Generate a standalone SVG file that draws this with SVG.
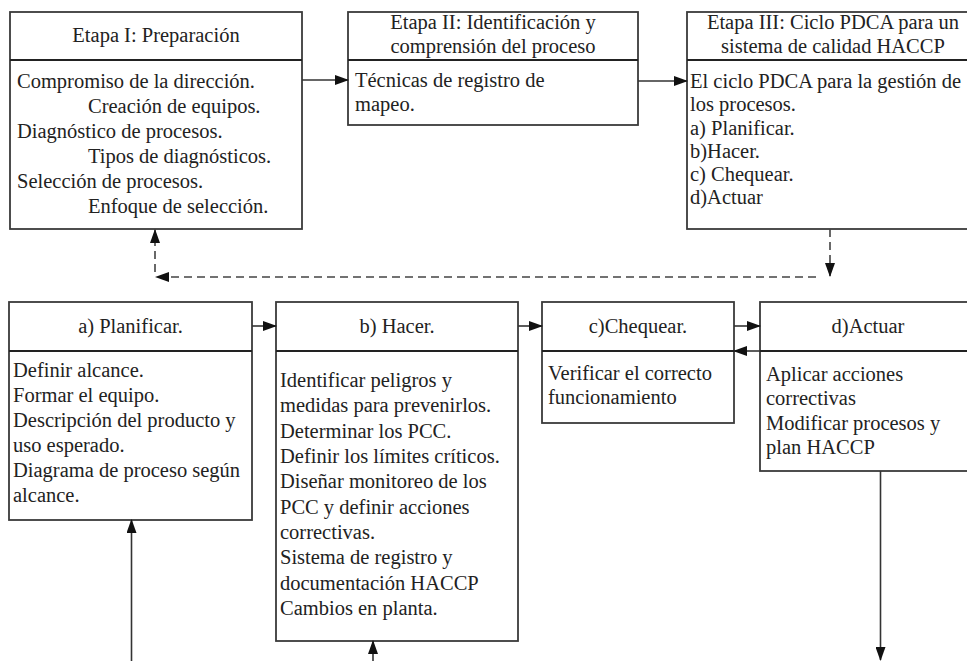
<svg xmlns="http://www.w3.org/2000/svg" width="967" height="661" viewBox="0 0 967 661">
<defs>
<style>
.box{fill:#fff;stroke:#3a3a3a;stroke-width:1.8}
.div{stroke:#222;stroke-width:1.8}
.t{font-family:"Liberation Serif","Times New Roman",serif;font-size:20.5px;fill:#222}
.c{text-anchor:middle}
.ln{fill:none;stroke:#333;stroke-width:1.6}
.dash{fill:none;stroke:#444;stroke-width:1.6;stroke-dasharray:8,5}
</style>
<marker id="ah" markerWidth="14" markerHeight="10" refX="13" refY="5" orient="auto" markerUnits="userSpaceOnUse">
<path d="M0,0 L14,5 L0,10 Z" fill="#111"/>
</marker>
</defs>
<rect width="967" height="661" fill="#fff"/>

<g id="etapa1">
<rect class="box" x="10" y="12" width="292" height="217"/>
<line class="div" x1="10" y1="60" x2="302" y2="60"/>
<text class="t c" x="156" y="42">Etapa I: Preparación</text>
<text class="t" x="17" y="88">Compromiso de la dirección.</text>
<text class="t" x="88" y="113">Creación de equipos.</text>
<text class="t" x="17" y="138">Diagnóstico de procesos.</text>
<text class="t" x="88" y="163">Tipos de diagnósticos.</text>
<text class="t" x="17" y="188">Selección de procesos.</text>
<text class="t" x="88" y="213">Enfoque de selección.</text>
</g>

<g id="etapa2">
<rect class="box" x="348" y="12" width="290" height="113"/>
<line class="div" x1="348" y1="60" x2="638" y2="60"/>
<text class="t c" x="493" y="29">Etapa II: Identificación y</text>
<text class="t c" x="493" y="53">comprensión del proceso</text>
<text class="t" x="355" y="87">Técnicas de registro de</text>
<text class="t" x="355" y="111">mapeo.</text>
</g>

<g id="etapa3">
<rect class="box" x="687" y="12" width="292" height="217"/>
<line class="div" x1="687" y1="60" x2="979" y2="60"/>
<text class="t c" x="833" y="29">Etapa III: Ciclo PDCA para un</text>
<text class="t c" x="833" y="53">sistema de calidad HACCP</text>
<text class="t" x="690" y="88">El ciclo PDCA para la gestión de</text>
<text class="t" x="690" y="111">los procesos.</text>
<text class="t" x="690" y="135">a) Planificar.</text>
<text class="t" x="690" y="158">b)Hacer.</text>
<text class="t" x="690" y="181">c) Chequear.</text>
<text class="t" x="690" y="204">d)Actuar</text>
</g>

<g id="planificar">
<rect class="box" x="9" y="302" width="243" height="218"/>
<line class="div" x1="9" y1="351" x2="252" y2="351"/>
<text class="t c" x="130.5" y="333">a) Planificar.</text>
<text class="t" x="13" y="377">Definir alcance.</text>
<text class="t" x="13" y="402">Formar el equipo.</text>
<text class="t" x="13" y="427">Descripción del producto y</text>
<text class="t" x="13" y="452">uso esperado.</text>
<text class="t" x="13" y="477">Diagrama de proceso según</text>
<text class="t" x="13" y="502">alcance.</text>
</g>

<g id="hacer">
<rect class="box" x="276" y="302" width="242" height="339"/>
<line class="div" x1="276" y1="351" x2="518" y2="351"/>
<text class="t c" x="397" y="333">b) Hacer.</text>
<text class="t" x="280" y="387">Identificar peligros y</text>
<text class="t" x="280" y="412">medidas para prevenirlos.</text>
<text class="t" x="280" y="438">Determinar los PCC.</text>
<text class="t" x="280" y="463">Definir los límites críticos.</text>
<text class="t" x="280" y="488">Diseñar monitoreo de los</text>
<text class="t" x="280" y="514">PCC y definir acciones</text>
<text class="t" x="280" y="539">correctivas.</text>
<text class="t" x="280" y="564">Sistema de registro y</text>
<text class="t" x="280" y="590">documentación HACCP</text>
<text class="t" x="280" y="615">Cambios en planta.</text>
</g>

<g id="chequear">
<rect class="box" x="542" y="302" width="192" height="121"/>
<line class="div" x1="542" y1="351" x2="734" y2="351"/>
<text class="t c" x="638" y="333">c)Chequear.</text>
<text class="t" x="548" y="380">Verificar el correcto</text>
<text class="t" x="548" y="404">funcionamiento</text>
</g>

<g id="actuar">
<rect class="box" x="760" y="302" width="217" height="169"/>
<line class="div" x1="760" y1="351" x2="977" y2="351"/>
<text class="t c" x="868" y="333">d)Actuar</text>
<text class="t" x="766" y="381">Aplicar acciones</text>
<text class="t" x="766" y="405">correctivas</text>
<text class="t" x="766" y="430">Modificar procesos y</text>
<text class="t" x="766" y="454">plan HACCP</text>
</g>

<g id="connectors">
<line class="ln" x1="302" y1="80" x2="348" y2="80" marker-end="url(#ah)"/>
<line class="ln" x1="638" y1="81" x2="687" y2="81" marker-end="url(#ah)"/>
<line class="dash" x1="830" y1="229" x2="830" y2="276" marker-end="url(#ah)"/>
<line class="dash" x1="816" y1="277" x2="156" y2="277" marker-end="url(#ah)"/>
<line class="dash" x1="155" y1="272" x2="155" y2="230" marker-end="url(#ah)"/>
<line class="ln" x1="252" y1="326" x2="276" y2="326" marker-end="url(#ah)"/>
<line class="ln" x1="518" y1="326" x2="542" y2="326" marker-end="url(#ah)"/>
<line class="ln" x1="734" y1="326" x2="760" y2="326" marker-end="url(#ah)"/>
<line class="ln" x1="760" y1="351" x2="734" y2="351" marker-end="url(#ah)"/>
<line class="ln" x1="131.5" y1="661" x2="131.5" y2="520" marker-end="url(#ah)"/>
<line class="ln" x1="373" y1="661" x2="373" y2="641" marker-end="url(#ah)"/>
<line class="ln" x1="880.5" y1="471" x2="880.5" y2="660" marker-end="url(#ah)"/>
</g>
</svg>
